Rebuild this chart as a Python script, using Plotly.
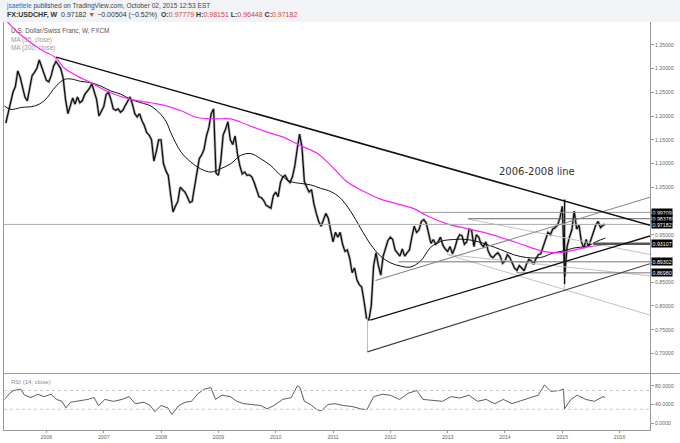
import numpy as np
import plotly.graph_objects as go

# USDCHF weekly (FXCM) - closes, twice a month, mid-Apr 2005 .. 1 Oct 2015
closes_2005 = [1.185, 1.205, 1.225, 1.250, 1.262, 1.295, 1.282, 1.262, 1.240, 1.232, 1.255, 1.285,
               1.292, 1.300, 1.318, 1.305, 1.290]
closes_2006 = [1.275, 1.272, 1.285, 1.305, 1.315, 1.308, 1.300, 1.280, 1.235, 1.205, 1.222, 1.238,
               1.225, 1.240, 1.228, 1.232, 1.245, 1.252, 1.258, 1.268, 1.250, 1.235, 1.200, 1.210]
closes_2007 = [1.220, 1.245, 1.250, 1.235, 1.215, 1.212, 1.215, 1.208, 1.212, 1.222, 1.230, 1.240,
               1.225, 1.205, 1.198, 1.205, 1.190, 1.180, 1.165, 1.160, 1.150, 1.105, 1.125, 1.150]
closes_2008 = [1.150, 1.100, 1.085, 1.075, 1.035, 0.998, 1.010, 1.020, 1.050, 1.045, 1.040, 1.030,
               1.018, 1.020, 1.050, 1.085, 1.110, 1.118, 1.130, 1.158, 1.175, 1.205, 1.215, 1.080]
closes_2009 = [1.075, 1.105, 1.160, 1.172, 1.188, 1.150, 1.140, 1.158, 1.120, 1.095, 1.078, 1.082,
               1.075, 1.076, 1.072, 1.060, 1.045, 1.030, 1.028, 1.022, 1.012, 1.008, 1.006, 1.032]
closes_2010 = [1.040, 1.030, 1.060, 1.072, 1.075, 1.065, 1.060, 1.072, 1.095, 1.130, 1.162, 1.135,
               1.062, 1.050, 1.040, 1.045, 1.015, 0.995, 0.978, 0.968, 0.980, 0.995, 0.985, 0.962]
closes_2011 = [0.935, 0.955, 0.945, 0.955, 0.930, 0.915, 0.918, 0.900, 0.870, 0.880, 0.855, 0.845,
               0.840, 0.810, 0.775, 0.770, 0.800, 0.885, 0.912, 0.885, 0.865, 0.905, 0.920, 0.938]
closes_2012 = [0.945, 0.940, 0.918, 0.912, 0.905, 0.920, 0.905, 0.912, 0.918, 0.945, 0.968, 0.955,
               0.960, 0.978, 0.982, 0.975, 0.955, 0.932, 0.940, 0.930, 0.935, 0.945, 0.928, 0.920]
closes_2013 = [0.915, 0.925, 0.910, 0.922, 0.940, 0.950, 0.948, 0.930, 0.935, 0.962, 0.960, 0.925,
               0.950, 0.945, 0.930, 0.925, 0.935, 0.915, 0.905, 0.902, 0.908, 0.912, 0.905, 0.890]
closes_2014 = [0.895, 0.908, 0.902, 0.890, 0.880, 0.875, 0.885, 0.880, 0.874, 0.888, 0.898, 0.895,
               0.888, 0.900, 0.908, 0.910, 0.925, 0.942, 0.955, 0.950, 0.962, 0.965, 0.970, 0.985]
closes_2015 = [1.010, 0.862, 0.925, 0.945, 0.960, 1.000, 0.962, 0.970, 0.935, 0.922, 0.940, 0.925,
               0.940, 0.955, 0.970, 0.978, 0.965, 0.970, 0.972]

close = (closes_2005 + closes_2006 + closes_2007 + closes_2008 + closes_2009 + closes_2010
         + closes_2011 + closes_2012 + closes_2013 + closes_2014 + closes_2015)
close_x = 2005 + 3.5 / 12 + np.arange(len(close)) / 24  # 1st and 15th of each month

# Jan 2015 SNB spike
spike_x = [2015.04, 2015.04]
spike_y = [1.024, 0.846]

# moving averages (decimal year, price)
ma55_yr = [2005.27, 2005.38, 2005.56, 2005.79, 2005.96, 2006.17, 2006.31, 2006.43, 2006.60, 2006.78,
           2006.95, 2007.12, 2007.30, 2007.47, 2007.65, 2007.82, 2008.00, 2008.11, 2008.17, 2008.35,
           2008.52, 2008.69, 2008.87, 2009.04, 2009.22, 2009.39, 2009.56, 2009.74, 2009.91, 2010.09,
           2010.26, 2010.44, 2010.61, 2010.78, 2010.96, 2011.13, 2011.31, 2011.48, 2011.66, 2011.83,
           2012.00, 2012.18, 2012.35, 2012.53, 2012.70, 2012.88, 2013.10, 2013.34, 2013.57, 2013.92,
           2014.15, 2014.38, 2014.62, 2014.85, 2015.02, 2015.20, 2015.43, 2015.60, 2015.75]
ma55 = [1.221, 1.214, 1.218, 1.221, 1.232, 1.263, 1.277, 1.278, 1.273, 1.270,
        1.263, 1.253, 1.246, 1.235, 1.228, 1.221, 1.203, 1.183, 1.165, 1.124,
        1.103, 1.089, 1.082, 1.089, 1.100, 1.117, 1.121, 1.110, 1.096, 1.075,
        1.062, 1.058, 1.055, 1.048, 1.041, 1.027, 0.999, 0.964, 0.929, 0.905,
        0.891, 0.884, 0.882, 0.895, 0.923, 0.936, 0.940, 0.940, 0.934, 0.919,
        0.908, 0.902, 0.902, 0.912, 0.916, 0.922, 0.926, 0.936, 0.943]

ma200_yr = [2005.26, 2005.55, 2005.90, 2006.17, 2006.31, 2006.54, 2006.78, 2007.12, 2007.47, 2007.82,
            2008.11, 2008.35, 2008.63, 2008.92, 2009.21, 2009.39, 2009.62, 2009.85, 2010.14, 2010.43,
            2010.73, 2011.01, 2011.25, 2011.54, 2011.83, 2012.12, 2012.41, 2012.64, 2012.99, 2013.34,
            2013.69, 2014.04, 2014.38, 2014.67, 2014.91, 2015.14, 2015.43, 2015.75]
ma200 = [1.406, 1.371, 1.340, 1.322, 1.301, 1.284, 1.270, 1.249, 1.235, 1.228,
         1.221, 1.211, 1.197, 1.194, 1.194, 1.187, 1.176, 1.166, 1.155, 1.138,
         1.121, 1.090, 1.061, 1.041, 1.025, 1.015, 1.005, 0.990, 0.973, 0.963,
         0.953, 0.940, 0.926, 0.915, 0.912, 0.916, 0.924, 0.929]

# RSI(14)
rsi_yr = [2005.27, 2005.36, 2005.43, 2005.55, 2005.62, 2005.73, 2005.85, 2005.96, 2006.08, 2006.18,
          2006.27, 2006.34, 2006.42, 2006.57, 2006.72, 2006.83, 2006.91, 2007.02, 2007.17, 2007.32,
          2007.44, 2007.55, 2007.70, 2007.81, 2007.89, 2008.00, 2008.12, 2008.19, 2008.31, 2008.42,
          2008.53, 2008.65, 2008.76, 2008.87, 2008.95, 2009.06, 2009.21, 2009.32, 2009.44, 2009.59,
          2009.74, 2009.85, 2009.97, 2010.12, 2010.27, 2010.38, 2010.42, 2010.50, 2010.61, 2010.72,
          2010.80, 2010.91, 2011.03, 2011.18, 2011.33, 2011.48, 2011.59, 2011.71, 2011.86, 2012.00,
          2012.16, 2012.31, 2012.46, 2012.57, 2012.76, 2012.91, 2013.06, 2013.21, 2013.37, 2013.52,
          2013.67, 2013.82, 2013.97, 2014.12, 2014.27, 2014.42, 2014.58, 2014.69, 2014.80, 2014.95,
          2015.02, 2015.04, 2015.15, 2015.26, 2015.41, 2015.56, 2015.71, 2015.75]
rsi = [51, 64, 70, 73, 60, 55, 62, 57, 62, 51,
       47, 33, 45, 48, 51, 55, 38, 51, 47, 51,
       57, 42, 45, 38, 25, 38, 33, 19, 38, 45,
       47, 64, 73, 76, 51, 60, 57, 47, 42, 40,
       38, 31, 38, 51, 55, 80, 77, 47, 40, 29,
       27, 40, 42, 38, 36, 31, 29, 57, 62, 60,
       51, 64, 70, 51, 48, 47, 57, 54, 60, 47,
       51, 42, 51, 42, 48, 54, 60, 82, 68, 70,
       73, 31, 51, 60, 51, 47, 57, 55]

# drawn tools: trend line, pitchfork, levels
trend = [(2006.17, 1.324), (2016.53, 0.970)]
fork_lower = [(2011.60, 0.7035), (2016.53, 0.889)]
fork_mid = [(2011.65, 0.770), (2016.53, 0.9475)]
fork_upper = [(2011.74, 0.8537), (2016.53, 1.029)]
fork_handle = [(2011.60, 0.7035), (2011.60, 0.775)]
grey_lines = [[(2013.36, 0.983), (2016.53, 0.9085)],
              [(2012.99, 0.9085), (2016.53, 0.7807)],
              [(2012.99, 0.9085), (2016.53, 0.8635)],
              [(2015.04, 0.846), (2015.04, 0.832)]]
levels = [0.99709, 0.98378, 0.97182, 0.93107, 0.89302, 0.86980]
level_start = [2012.56, 2013.36, 2005.26, 2015.54, 2012.14, 2014.20]
level_color = ["#999999", "#666666", "#aaaaaa", "#555555", "#777777", "#777777"]
level_width = [1, 1, 1, 2.5, 1, 1]

price_ticks = [0.70, 0.75, 0.80, 0.85, 0.95, 1.05, 1.10, 1.15, 1.20, 1.25, 1.30, 1.35]
year_ticks = list(range(2006, 2017))

X0, X1 = 2005.26, 2016.53
fig = go.Figure()

fig.add_trace(go.Scatter(x=close_x, y=close, mode="lines", line=dict(color="#bdbdbd", width=2.8),
                         yaxis="y"))
fig.add_trace(go.Scatter(x=close_x, y=close, mode="lines", line=dict(color="#111111", width=1.3),
                         yaxis="y"))
fig.add_trace(go.Scatter(x=spike_x, y=spike_y, mode="lines", line=dict(color="#111111", width=1.5)))
fig.add_trace(go.Scatter(x=ma55_yr, y=ma55, mode="lines", line=dict(color="#111111", width=1, shape="spline")))
fig.add_trace(go.Scatter(x=ma200_yr, y=ma200, mode="lines", line=dict(color="#ff22ff", width=1.2, shape="spline")))
fig.add_trace(go.Scatter(x=rsi_yr, y=rsi, mode="lines", line=dict(color="#333333", width=0.8), yaxis="y2"))


def seg(pts, color, width):
    (xa, ya), (xb, yb) = pts
    fig.add_shape(type="line", x0=xa, y0=ya, x1=xb, y1=yb, xref="x", yref="y",
                  line=dict(color=color, width=width))


for g in grey_lines:
    seg(g, "#c2c2c2", 1)
for lv, xs, c, w in zip(levels, level_start, level_color, level_width):
    seg([(xs, lv), (X1, lv)], c, w)
seg(fork_handle, "#bbbbbb", 1)
seg(fork_lower, "#444444", 1.2)
seg(fork_mid, "#111111", 1.3)
seg(fork_upper, "#888888", 1.1)
seg(trend, "#111111", 1.5)

# RSI bands
for v in [70, 30]:
    fig.add_shape(type="line", x0=X0, x1=X1, y0=v, y1=v, xref="x", yref="y2",
                  line=dict(color="#c8c8c8", width=1, dash="dot"))

# header band and pane separator
fig.add_shape(type="rect", xref="paper", yref="paper", x0=-0.01, x1=1.05, y0=1.0, y1=1.06,
              fillcolor="#f1f3f6", line=dict(width=0), layer="below")
fig.add_shape(type="line", xref="paper", yref="paper", x0=0, x1=1.046, y0=0.1383, y1=0.1383,
              line=dict(color="#999999", width=1))

ann = []
ann.append(dict(x=0, y=1.0388, xref="paper", yref="paper", xanchor="left", yanchor="middle", showarrow=False,
                text="<span style='color:#2e6db4'>jsaettele</span> published on TradingView.com, October 02, 2015 12:53 EST",
                font=dict(family="Liberation Sans", size=6.6, color="#444444")))
red = "#d9443a"
ann.append(dict(x=0.002, y=1.0165, xref="paper", yref="paper", xanchor="left", yanchor="middle", showarrow=False,
                text=("<b>FX:USDCHF, W</b>  0.97182 <span style='color:%s'>▼</span> −0.00504 (−0.52%%)  "
                      "<b>O:</b><span style='color:%s'>0.97779</span> <b>H:</b><span style='color:%s'>0.98151</span> "
                      "<b>L:</b><span style='color:%s'>0.96448</span> <b>C:</b><span style='color:%s'>0.97182</span>")
                % (red, red, red, red, red),
                font=dict(family="Liberation Sans", size=7, color="#333333")))
for i, (t, c) in enumerate([("U.S. Dollar/Swiss Franc, W, FXCM", "#555555"),
                            ("MA (55, close)", "#9a9a9a"), ("MA (200, close)", "#9a9a9a")]):
    ann.append(dict(x=0.008, y=1 - (9 + 8.7 * i) / 412, xref="paper", yref="paper", xanchor="left",
                    yanchor="middle", showarrow=False, text=t,
                    font=dict(family="Liberation Sans", size=6.4, color=c)))
ann.append(dict(x=0.008, y=(57 - 9) / 412, xref="paper", yref="paper", xanchor="left", yanchor="middle",
                showarrow=False, text="RSI (14, close)", font=dict(family="Liberation Sans", size=6, color="#8a8a8a")))
ann.append(dict(x=2014.55, y=1.083, xref="x", yref="y", xanchor="center", yanchor="middle", showarrow=False,
                text="2006-2008 line", font=dict(family="DejaVu Sans", size=10, color="#333333")))
for lv in levels:
    ann.append(dict(x=1, y=lv, xref="paper", yref="y", xanchor="left", yanchor="middle", xshift=1,
                    showarrow=False, text="%.5f" % lv, bgcolor="#000000", borderpad=0.5,
                    font=dict(family="Liberation Sans", size=5.3, color="#ffffff")))

axis_font = dict(family="Liberation Sans", size=5.2, color="#666666")
fig.update_layout(
    width=680, height=443, margin=dict(l=3, r=30, t=22, b=9),
    paper_bgcolor="#ffffff", plot_bgcolor="#ffffff", showlegend=False,
    annotations=ann,
    xaxis=dict(range=[X0, X1], anchor="y2", tickvals=year_ticks, ticktext=[str(y) for y in year_ticks],
               tickfont=axis_font, showgrid=False, zeroline=False, showline=True, linecolor="#999999",
               ticks="outside", ticklen=2, tickcolor="#999999"),
    yaxis=dict(domain=[0.1383, 1], range=[0.6577, 1.398], side="right", tickvals=price_ticks,
               ticktext=["%.5f" % v for v in price_ticks], tickfont=axis_font, showgrid=False,
               zeroline=False, showline=True, mirror=True, linecolor="#999999", ticks="outside",
               ticklen=3, tickcolor="#999999"),
    yaxis2=dict(domain=[0, 0.1383], range=[-14, 106], side="right", tickvals=[0, 40, 80],
                ticktext=["0.0000", "40.0000", "80.0000"], tickfont=axis_font, showgrid=False,
                zeroline=False, showline=True, mirror=True, linecolor="#999999", ticks="outside",
                ticklen=3, tickcolor="#999999"),
)

# page body has a default 8px margin; drop it so the figure sits at the window's corner
fig.write_html("out.html", config={"displayModeBar": False},
               post_script="document.body.style.margin='0px';document.body.style.overflow='hidden';")
